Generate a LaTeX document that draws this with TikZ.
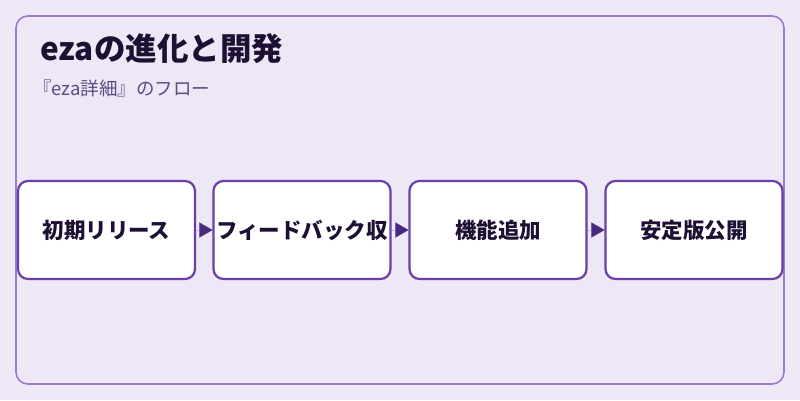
\documentclass[tikz,border=0pt]{standalone}
\usepackage{fontspec}
\usetikzlibrary{arrows.meta}
\setmainfont{Noto Sans CJK JP}
\definecolor{bgc}{HTML}{EDE7F6}
\definecolor{framec}{HTML}{9C7BD0}
\definecolor{nodec}{HTML}{6A3FA8}
\definecolor{arrc}{HTML}{4A2A7E}
\definecolor{titlec}{HTML}{1E1033}
\definecolor{subc}{HTML}{5E4A87}
\definecolor{textc}{HTML}{1E1033}
\begin{document}
\begin{tikzpicture}[x=1pt,y=-1pt,
  stepbox/.style={draw=nodec,line width=2.2pt,fill=white,rounded corners=10pt,
    minimum width=177pt,minimum height=98pt,inner sep=0pt,
    font=\fontsize{21.5}{24}\selectfont\bfseries,text=textc},
  flowarrow/.style={draw=arrc,line width=0.01pt,-{Triangle[length=13pt,width=15pt]},fill=arrc}
]
\useasboundingbox (0,0) rectangle (800,400);
\fill[bgc] (0,0) rectangle (800,400);
\draw[framec,line width=1.6pt,rounded corners=12pt] (16,16) rectangle (784,384);
\node[anchor=base west,inner sep=0pt,text=titlec,font=\fontsize{31.5}{36}\selectfont\bfseries] (title) at (40,60) {ezaの進化と開発};
\node[anchor=base west,inner sep=0pt,text=subc,font=\fontsize{18.5}{20}\selectfont] (sub) at (33,95) {『eza詳細』のフロー};
\node[stepbox] (n1) at (106.5,230) {初期リリース};
\node[stepbox] (n2) at (302,230) {フィードバック収};
\node[stepbox] (n3) at (498,230) {機能追加};
\node[stepbox] (n4) at (694,230) {安定版公開};
\draw[flowarrow] (n1) -- (n2);
\draw[flowarrow] (n2) -- (n3);
\draw[flowarrow] (n3) -- (n4);
\end{tikzpicture}
\end{document}
